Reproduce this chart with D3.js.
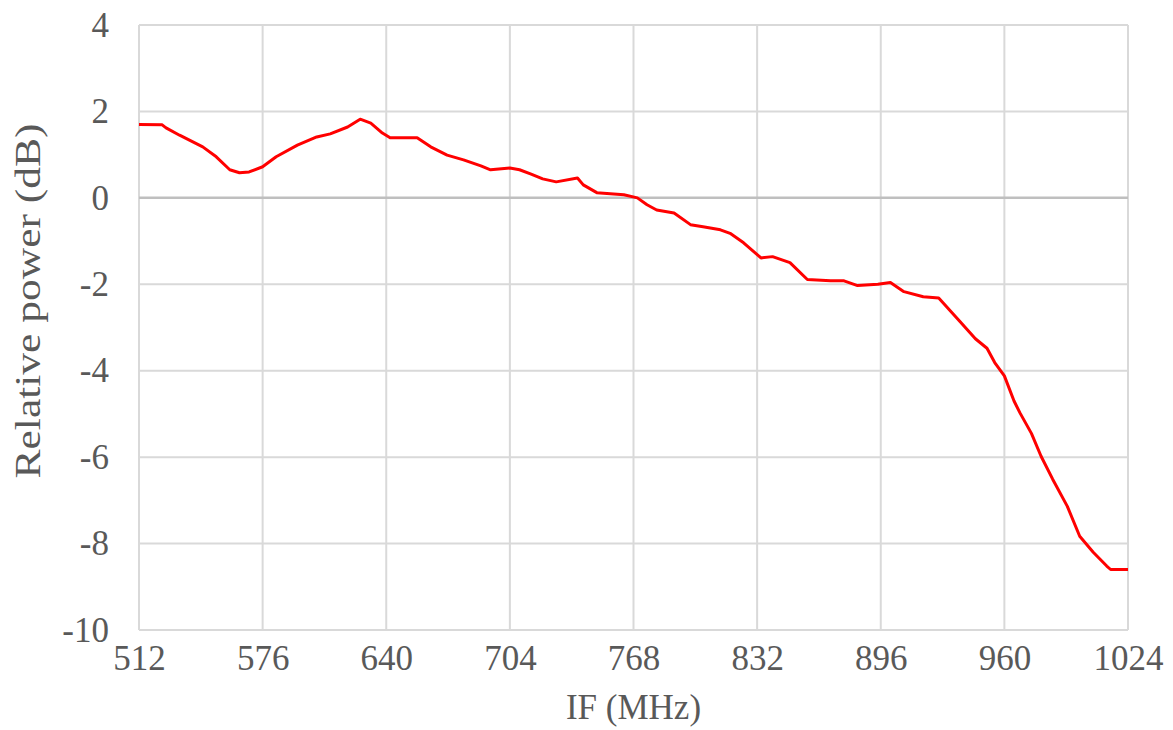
<!DOCTYPE html>
<html>
<head>
<meta charset="utf-8">
<script src="https://cdn.jsdelivr.net/npm/d3@7"></script>
<style>
  body { margin: 0; background: #fff; }
  svg { display: block; }
</style>
</head>
<body>
<svg class="line-chart"></svg>
<script>
const width = 1173;
const height = 730;
const margin = {top: 25, right: 45, bottom: 100, left: 139};

// frequency (MHz) and relative power (dB)
const freqMHz = [512, 524, 526, 533, 545, 552, 559, 564, 569, 576, 583, 594, 604, 611,
    620, 626.5, 632, 638, 642, 656, 663, 671.5, 680, 689, 694, 704, 709, 715, 721, 728,
    739, 742, 749, 763, 770, 775, 780, 789, 797.5, 804, 813, 818, 825, 834, 840, 849,
    858, 870, 877, 884, 894.5, 901, 908, 918, 926, 937, 945, 951, 955, 960, 965, 968,
    974, 979, 985, 992.6, 999, 1006, 1013, 1015, 1024];
const powerDb = [1.70, 1.69, 1.62, 1.45, 1.18, 0.95, 0.65, 0.58, 0.60, 0.72, 0.95, 1.22, 1.41, 1.48,
    1.64, 1.82, 1.73, 1.50, 1.39, 1.39, 1.18, 0.99, 0.88, 0.74, 0.65, 0.69, 0.65, 0.55, 0.44, 0.37,
    0.46, 0.30, 0.12, 0.07, 0.00, -0.16, -0.28, -0.35, -0.62, -0.67, -0.74, -0.82, -1.04, -1.39, -1.36, -1.50,
    -1.89, -1.92, -1.92, -2.03, -2.00, -1.96, -2.17, -2.29, -2.32, -2.86, -3.26, -3.48, -3.81, -4.12, -4.70, -4.97,
    -5.45, -5.98, -6.51, -7.14, -7.83, -8.20, -8.52, -8.60, -8.60];

const xTicks = [512, 576, 640, 704, 768, 832, 896, 960, 1024];
const yTicks = [-10, -8, -6, -4, -2, 0, 2, 4];

const data = freqMHz.map((f, i) => ({f: f, p: powerDb[i]}));

const svg = d3.select(".line-chart")
    .attr("width", width)
    .attr("height", height)
    .style("font-family", "'Liberation Serif', 'Times New Roman', serif");

const x = d3.scaleLinear()
    .domain([512, 1024])
    .range([margin.left, width - margin.right]);

const y = d3.scaleLinear()
    .domain([-10, 4])
    .range([height - margin.bottom, margin.top]);

// gridlines
svg.append("g")
    .attr("stroke", "#d9d9d9")
    .attr("stroke-width", 2)
    .selectAll("line")
        .data(xTicks)
    .enter().append("line")
        .attr("x1", d => x(d))
        .attr("x2", d => x(d))
        .attr("y1", y(4))
        .attr("y2", y(-10));

svg.append("g")
    .selectAll("line")
        .data(yTicks)
    .enter().append("line")
        .attr("stroke", d => d === 0 ? "#bfbfbf" : "#d9d9d9")
        .attr("stroke-width", d => d === 0 ? 2.5 : 2)
        .attr("x1", x(512))
        .attr("x2", x(1024))
        .attr("y1", d => y(d))
        .attr("y2", d => y(d));

let xAxis = (g) => g
    .attr("transform", `translate(0, ${y(-10)})`)
    .call(d3.axisBottom(x).tickValues(xTicks).tickSize(0).tickPadding(15)
        .tickFormat(d3.format("d")))
    .call(g => g.select(".domain").remove());

let yAxis = (g) => g
    .attr("transform", `translate(${x(512)}, 0)`)
    .call(d3.axisLeft(y).tickValues(yTicks).tickSize(0).tickPadding(30)
        .tickFormat(d => d < 0 ? "-" + Math.abs(d) : d))
    .call(g => g.select(".domain").remove());

svg.append("g").call(xAxis);
svg.append("g").call(yAxis);

svg.selectAll(".tick text")
    .attr("fill", "#595959")
    .style("font-family", "'Liberation Serif', 'Times New Roman', serif")
    .style("font-size", "35px");

// the curve
const line = d3.line()
    .x(d => x(d.f))
    .y(d => y(d.p));

svg.append("path")
    .datum(data)
    .attr("fill", "none")
    .attr("stroke", "#ff0000")
    .attr("stroke-width", 3)
    .attr("stroke-linejoin", "round")
    .attr("d", line);

// axis titles
svg.append("text")
    .attr("x", (x(512) + x(1024)) / 2)
    .attr("y", 719)
    .attr("text-anchor", "middle")
    .attr("fill", "#595959")
    .style("font-size", "35px")
    .text("IF (MHz)");

svg.append("text")
    .attr("transform", "translate(40, 301) rotate(-90)")
    .attr("text-anchor", "middle")
    .attr("fill", "#595959")
    .attr("textLength", 355)
    .attr("lengthAdjust", "spacingAndGlyphs")
    .style("font-size", "35px")
    .text("Relative power (dB)");
</script>
</body>
</html>
